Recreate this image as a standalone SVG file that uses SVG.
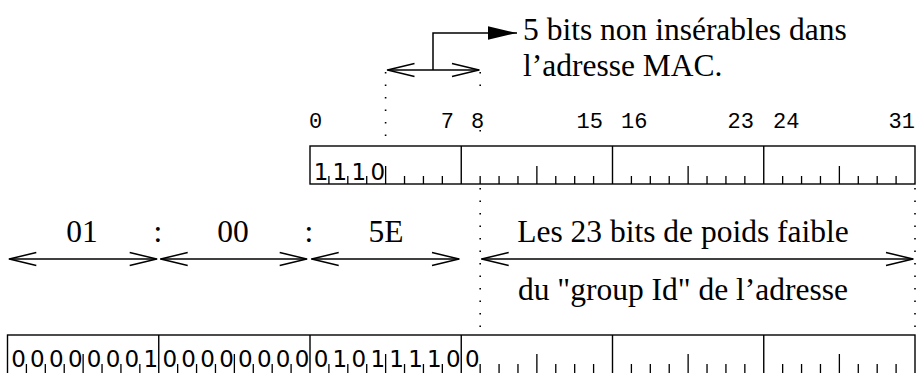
<svg xmlns="http://www.w3.org/2000/svg" xmlns:xlink="http://www.w3.org/1999/xlink" width="917" height="373" viewBox="0 0 917 373">
<style>
.box{fill:none;stroke:#000;stroke-width:1.4}
.tick{fill:none;stroke:#000;stroke-width:1.3}
.dot{fill:none;stroke:#000;stroke-width:1.6;stroke-dasharray:1.6 10.9}
.arr{fill:none;stroke:#000;stroke-width:1.5}
.serif{font-family:"Liberation Serif","Times New Roman",serif;font-size:31.5px;fill:#000}
.mono{font-family:"Liberation Mono","Courier New",monospace;font-size:22px;fill:#000}
.bit{font-family:"DejaVu Sans",sans-serif;font-size:23px;fill:#000;text-anchor:middle}
</style>
<defs>
<marker id="open" markerUnits="userSpaceOnUse" overflow="visible" orient="auto-start-reverse" refX="0" refY="0" markerWidth="30" markerHeight="16">
<path d="M-27,-6.5 L0,0 L-27,6.5" fill="none" stroke="#000" stroke-width="1.5" stroke-linejoin="round"/>
</marker>
<marker id="solid" markerUnits="userSpaceOnUse" overflow="visible" orient="auto" refX="0" refY="0" markerWidth="30" markerHeight="16">
<path d="M-29,-6.7 L0,0 L-29,6.7 Z" fill="#000" stroke="none"/>
</marker>
<path id="ticksTop" class="tick" d="M18.906,0v-8 M37.813,0v-8 M56.719,0v-8 M75.625,0v-18 M94.531,0v-8 M113.438,0v-8 M132.344,0v-8"/>
<path id="ticksBot" class="tick" d="M18.906,0v-10 M37.813,0v-10 M56.719,0v-10 M75.625,0v-20 M94.531,0v-10 M113.438,0v-10 M132.344,0v-10"/>
</defs>

<g id="ip-register">
<rect class="box" x="310" y="146" width="605" height="38"/>
<path class="box" d="M461.25,146V184 M612.5,146V184 M763.75,146V184"/>
<use xlink:href="#ticksTop" x="310" y="184"/>
<use xlink:href="#ticksTop" x="461.25" y="184"/>
<use xlink:href="#ticksTop" x="612.5" y="184"/>
<use xlink:href="#ticksTop" x="763.75" y="184"/>
<text class="bit" x="321 339.91 358.81 377.72" y="180">1110</text>
<text class="mono" x="309" y="128">0</text>
<text class="mono" x="454" y="128" text-anchor="end">7</text>
<text class="mono" x="471" y="128">8</text>
<text class="mono" x="603" y="128" text-anchor="end">15</text>
<text class="mono" x="621" y="128">16</text>
<text class="mono" x="754" y="128" text-anchor="end">23</text>
<text class="mono" x="773" y="128">24</text>
<text class="mono" x="915" y="128" text-anchor="end">31</text>
</g>

<g id="mac-register">
<rect class="box" x="7.5" y="335" width="907.5" height="39"/>
<path class="box" d="M158.75,335V374 M310,335V374 M461.25,335V374 M612.5,335V374 M763.75,335V374"/>
<use xlink:href="#ticksBot" x="7.5" y="374"/>
<use xlink:href="#ticksBot" x="158.75" y="374"/>
<use xlink:href="#ticksBot" x="310" y="374"/>
<use xlink:href="#ticksBot" x="461.25" y="374"/>
<use xlink:href="#ticksBot" x="612.5" y="374"/>
<use xlink:href="#ticksBot" x="763.75" y="374"/>
<text class="bit" x="18.5 37.41 56.31 75.22 94.13 113.03 131.94 150.84" y="367">00000001</text>
<text class="bit" x="169.75 188.66 207.56 226.47 245.38 264.28 283.19 302.09" y="367">00000000</text>
<text class="bit" x="321 339.91 358.81 377.72 396.63 415.53 434.44 453.34" y="367">01011110</text>
<text class="bit" x="472.25" y="367">0</text>
</g>

<g id="labels">
<text class="serif" x="523" y="40">5 bits non insérables dans</text>
<text class="serif" x="523" y="76">l’adresse MAC.</text>
<text class="serif" x="82" y="242" text-anchor="middle">01</text>
<text class="serif" x="158" y="242" text-anchor="middle">:</text>
<text class="serif" x="233" y="242" text-anchor="middle">00</text>
<text class="serif" x="309" y="242" text-anchor="middle">:</text>
<text class="serif" x="386" y="242" text-anchor="middle">5E</text>
<text class="serif" x="683" y="242" text-anchor="middle">Les 23 bits de poids faible</text>
<text class="serif" x="683" y="300" text-anchor="middle">du "group Id" de l’adresse</text>
</g>

<g id="guides">
<path class="dot" d="M385.6,72V142"/>
<path class="dot" d="M480.2,72V92 M480.2,130V142"/>
<path class="dot" d="M480.2,188V332"/>
<path class="dot" d="M915,188V332"/>
</g>

<g id="connectors">
<line class="arr" x1="387.5" y1="70" x2="479" y2="70" marker-start="url(#open)" marker-end="url(#open)"/>
<polyline class="arr" points="433,70 433,33 517,33" marker-end="url(#solid)"/>
<line class="arr" x1="9.3" y1="259" x2="156.7" y2="259" marker-start="url(#open)" marker-end="url(#open)"/>
<line class="arr" x1="160.7" y1="259" x2="306.7" y2="259" marker-start="url(#open)" marker-end="url(#open)"/>
<line class="arr" x1="311.7" y1="259" x2="459" y2="259" marker-start="url(#open)" marker-end="url(#open)"/>
<line class="arr" x1="481.7" y1="259" x2="913" y2="259" marker-start="url(#open)" marker-end="url(#open)"/>
</g>
</svg>
